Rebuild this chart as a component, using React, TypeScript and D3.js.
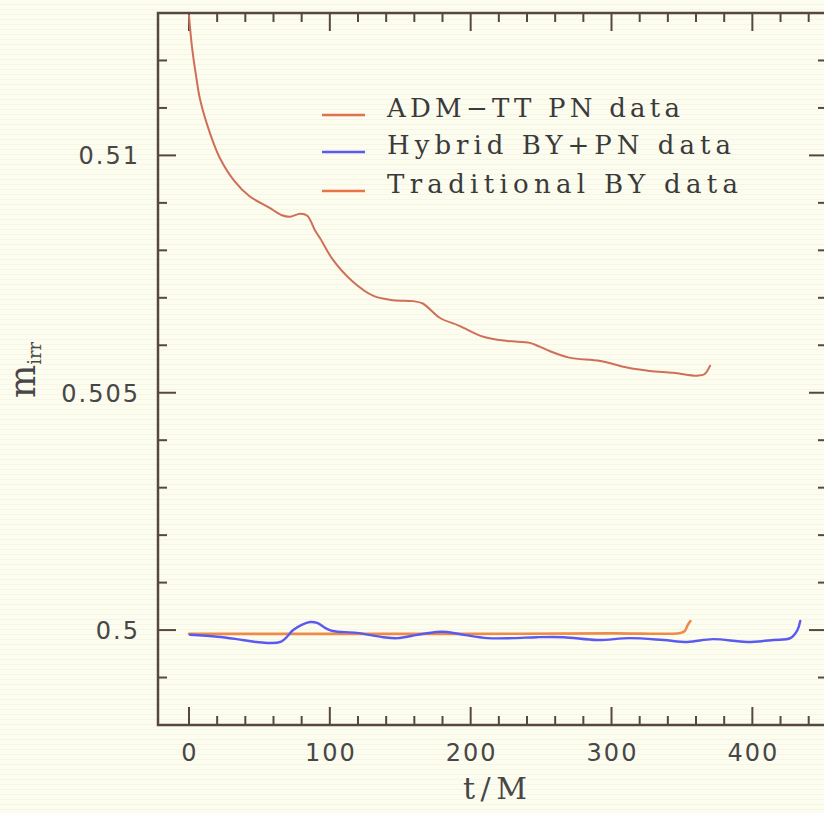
import React from "react";
import * as d3 from "d3";

// ---- data ----
const admT = [0, 2, 5, 8, 15, 22, 32, 43, 57, 66, 72, 79, 84, 89.5, 93, 102, 116, 131, 145, 159, 166, 178, 192, 209, 226, 242, 249, 256, 270, 292, 311, 327, 344, 361, 366, 370];
const admM = [0.51295, 0.51232, 0.51168, 0.51116, 0.51046, 0.50994, 0.50947, 0.50914, 0.50890, 0.50874, 0.50871, 0.50877, 0.50873, 0.50842, 0.50826, 0.50781, 0.50735, 0.50704, 0.50695, 0.50693, 0.50688, 0.50658, 0.50641, 0.50618, 0.50609, 0.50605, 0.50597, 0.50588, 0.50574, 0.50567, 0.50553, 0.50546, 0.50542, 0.50536, 0.50539, 0.50557];

const hybT = [0.7, 20, 34, 48, 65, 74, 80, 86, 91, 97, 102, 119, 138, 148, 162, 176, 183, 195, 212, 230, 247, 266, 290, 313, 337, 354, 372, 396, 415, 427, 432, 434];
const hybM = [0.4999, 0.49986, 0.49981, 0.49975, 0.49975, 0.5, 0.50011, 0.50017, 0.50015, 0.50004, 0.49998, 0.49994, 0.49985, 0.49983, 0.4999, 0.49996, 0.49996, 0.4999, 0.49983, 0.49983, 0.49985, 0.49985, 0.49979, 0.49983, 0.49979, 0.49975, 0.49981, 0.49975, 0.49979, 0.49983, 0.5, 0.50019];

const tradT = [0, 100, 200, 300, 349, 352, 354, 356];
const tradM = [0.49992, 0.49992, 0.49992, 0.49993, 0.49994, 0.49998, 0.5001, 0.50019];

const xMajor = [0, 100, 200, 300, 400];
const yMajor = [0.5, 0.505, 0.51];
const yLabels = ["0.5", "0.505", "0.51"];
const legendNames = ["ADM\u2212TT PN data", "Hybrid BY+PN data", "Traditional BY data"];
const legendColors = ["#e0704f", "#5a5af0", "#ea7448"];

const W = 824, H = 813;
const L = 158, R = 827, T = 13, B = 725;
const axisColor = "#57483f";

export default function App() {
  const x = d3.scaleLinear().domain([-22, 453]).range([L, R]);
  const y = d3.scaleLinear().domain([0.498, 0.513]).range([B, T]);

  const line = d3
    .line<[number, number]>()
    .x((d) => x(d[0]))
    .y((d) => y(d[1]))
    .curve(d3.curveCatmullRom.alpha(0.5));

  const adm = admT.map((t, i) => [t, admM[i]] as [number, number]);
  const hyb = hybT.map((t, i) => [t, hybM[i]] as [number, number]);
  const trad = tradT.map((t, i) => [t, tradM[i]] as [number, number]);

  const xMinor = d3.range(0, 441, 20).filter((v) => v % 100 !== 0);
  const yMinor = d3
    .range(0, 16)
    .map((k) => 0.498 + k * 0.001)
    .filter((v) => {
      const r = Math.round(v * 1000) % 5;
      return r !== 0;
    });

  const major = 18, minor = 9;

  return (
    <svg
      width={W}
      height={H}
      style={{ position: "absolute", left: 0, top: 0, display: "block" }}
    >
      <defs>
        <pattern id="scan" width="10" height="5" patternUnits="userSpaceOnUse">
          <rect width="10" height="5" fill="#fcfcef" />
          <rect y="4" width="10" height="1" fill="#f6f6e7" />
        </pattern>
        <clipPath id="plot">
          <rect x={L} y={T} width={R - L} height={B - T} />
        </clipPath>
      </defs>
      <rect width={W} height={H} fill="url(#scan)" />

      {/* ticks */}
      <g stroke={axisColor} strokeWidth={2}>
        {xMajor.map((v) => (
          <g key={"xm" + v}>
            <line x1={x(v)} x2={x(v)} y1={B} y2={B - major} />
            <line x1={x(v)} x2={x(v)} y1={T} y2={T + major} />
          </g>
        ))}
        {xMinor.map((v) => (
          <g key={"xn" + v}>
            <line x1={x(v)} x2={x(v)} y1={B} y2={B - minor} />
            <line x1={x(v)} x2={x(v)} y1={T} y2={T + minor} />
          </g>
        ))}
        {yMajor.map((v) => (
          <g key={"ym" + v}>
            <line x1={L} x2={L + major} y1={y(v)} y2={y(v)} />
            <line x1={R} x2={R - major} y1={y(v)} y2={y(v)} />
          </g>
        ))}
        {yMinor.map((v) => (
          <g key={"yn" + v}>
            <line x1={L} x2={L + minor} y1={y(v)} y2={y(v)} />
            <line x1={R} x2={R - minor} y1={y(v)} y2={y(v)} />
          </g>
        ))}
      </g>

      {/* data */}
      <g clipPath="url(#plot)" fill="none" strokeLinejoin="round" strokeLinecap="round">
        <path d={line(trad) || ""} stroke="#f08a48" strokeWidth={2.6} />
        <path d={line(hyb) || ""} stroke="#5a5af0" strokeWidth={2.4} />
        <path d={line(adm) || ""} stroke="#cf6f58" strokeWidth={2} />
      </g>

      {/* frame */}
      <rect x={L} y={T} width={R - L} height={B - T} fill="none" stroke={axisColor} strokeWidth={2.5} />

      {/* tick labels */}
      <g fontFamily="'DejaVu Sans', sans-serif" fontSize={24} fill="#474747" letterSpacing={2}>
        {xMajor.map((v) => (
          <text key={"xl" + v} x={x(v) + 1} y={761} textAnchor="middle">
            {String(v)}
          </text>
        ))}
        {yMajor.map((v, i) => (
          <text key={"yl" + v} x={140} y={y(v) + 9} textAnchor="end">
            {yLabels[i]}
          </text>
        ))}
      </g>

      {/* axis titles */}
      <text x={463} y={799} fontFamily="'DejaVu Serif', serif" fontSize={30} fill="#474747" textLength={64} lengthAdjust="spacing">
        t/M
      </text>
      <g transform="translate(35,398) rotate(-90)" fontFamily="'DejaVu Serif', serif" fill="#474747">
        <text x={0} y={0} fontSize={35}>
          m
          <tspan fontSize={18} dy={6}>irr</tspan>
        </text>
      </g>

      {/* legend */}
      <g>
        {legendNames.map((name, i) => {
          const yy = [116, 153, 192][i];
          const ends = [680, 731, 738];
          return (
            <g key={name}>
              <line x1={322} x2={365} y1={yy - 1} y2={yy - 1} stroke={legendColors[i]} strokeWidth={2.5} />
              <text x={387} y={yy + 1} fontFamily="'DejaVu Serif', serif" fontSize={26} fill="#3a3a3a" textLength={ends[i] - 387} lengthAdjust="spacing">
                {name}
              </text>
            </g>
          );
        })}
      </g>
    </svg>
  );
}
